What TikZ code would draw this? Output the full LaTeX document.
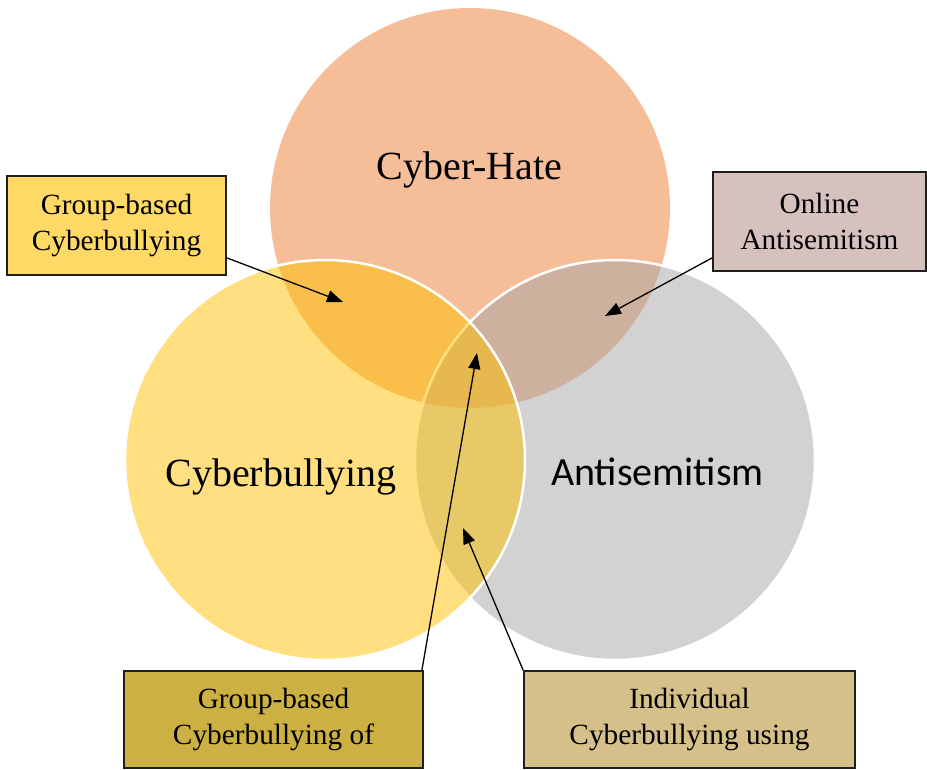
\documentclass[tikz,border=0pt]{standalone}
\usepackage{fontspec}
\setmainfont{Liberation Serif}
\newfontfamily\calfont{Carlito}
\usetikzlibrary{arrows.meta,calc}
\definecolor{cHate}{HTML}{ED7D31}
\definecolor{cBully}{HTML}{FFC000}
\definecolor{cAnti}{HTML}{A5A5A5}
\definecolor{bxOne}{HTML}{FFD966}
\definecolor{bxTwo}{HTML}{D6C1BF}
\definecolor{bxThree}{HTML}{CCB044}
\definecolor{bxFour}{HTML}{D6C089}
\definecolor{bxLine}{HTML}{1E1E1E}
\tikzset{
  venn/.style={circle, minimum size=400pt, inner sep=0pt, fill opacity=0.5},
  bigtext/.style={anchor=base, inner sep=0pt, font=\fontsize{40}{48}\selectfont},
  infobox/.style={draw=bxLine, line width=1.8pt, inner sep=0pt, align=center,
    font=\fontsize{29.3}{35.5}\selectfont},
  pointer/.style={line width=1.3pt, -{Triangle[length=16pt,width=12pt]}}
}
\begin{document}
\begin{tikzpicture}[x=1pt,y=-1pt]
\useasboundingbox (0,0) rectangle (927,769);
% circles
\node[venn, fill=cHate] (hate) at (470,208) {};
\node[venn, fill=cAnti, draw=white, line width=2.5pt] (anti) at (615,460) {};
\node[venn, fill=cBully, draw=white, line width=2.5pt] (bully) at (325,460) {};
% circle labels
\node[bigtext] (thate) at (469.5,179) {Cyber-Hate};
\node[bigtext] (tbully) at (281,486) {Cyberbullying};
\node[bigtext, font=\calfont\fontsize{40}{48}\selectfont] (tanti) at (657.5,485) {Antisemitism};
% boxes
\node[infobox, fill=bxOne, minimum width=219pt, minimum height=99pt] (b1) at (116.5,225.5) {Group-based\\Cyberbullying};
\node[infobox, fill=bxTwo, minimum width=213pt, minimum height=99pt] (b2) at (819.5,221.5) {Online\\Antisemitism};
\node[infobox, fill=bxThree, minimum width=299pt, minimum height=97pt] (b3) at (273.5,719.5) {Group-based\\Cyberbullying of};
\node[infobox, fill=bxFour, minimum width=331pt, minimum height=97pt] (b4) at (689.5,719.5) {Individual\\Cyberbullying using};
% pointer tips
\coordinate (p1) at (343,302);
\coordinate (p2) at (605,316);
\coordinate (p3) at (477,353);
\coordinate (p4) at (463,528);
% connectors
\draw[pointer] ($(b1.south east)+(0,-18)$) -- (p1);
\draw[pointer] ($(b2.south west)+(0,-14)$) -- (p2);
\draw[pointer] ($(b3.north east)+(-2,0)$) -- (p3);
\draw[pointer] (b4.north west) -- (p4);
\end{tikzpicture}
\end{document}
